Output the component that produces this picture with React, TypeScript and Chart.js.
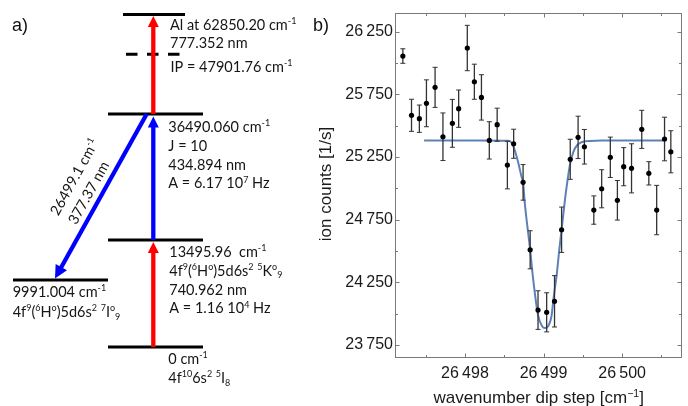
import React, { useEffect, useRef } from "react";
import { Chart, registerables } from "chart.js";
Chart.register(...registerables);

// ---------------- Panel b) data ----------------
const scanX = [
  26497.21, 26497.32, 26497.42, 26497.51, 26497.62, 26497.72, 26497.84, 26497.92,
  26498.03, 26498.12, 26498.21, 26498.31, 26498.41, 26498.54, 26498.62, 26498.74,
  26498.83, 26498.93, 26499.04, 26499.14, 26499.23, 26499.34, 26499.44, 26499.52,
  26499.64, 26499.74, 26499.85, 26499.94, 26500.02, 26500.12, 26500.25, 26500.34,
  26500.44, 26500.54, 26500.62,
];
const ionCounts = [
  26056, 25583, 25556, 25679, 25806, 25412, 25519, 25636,
  26120, 25851, 25726, 25383, 25508, 25186, 25356, 25048,
  24510, 24029, 24011, 24099, 24670, 25232, 25407, 25332,
  24827, 24997, 25248, 24905, 25173, 25160, 25471, 25120,
  24827, 25394, 25292,
];
const ionErr = [
  58, 128, 109, 187, 160, 190, 191, 149,
  181, 140, 181, 149, 132, 190, 116, 142,
  152, 154, 156, 205, 181, 160, 169, 138,
  113, 152, 161, 158, 152, 196, 152, 93,
  197, 174, 168,
];
const fitX = [
  26497.48, 26498.19, 26498.55, 26498.60, 26498.64, 26498.68, 26498.72, 26498.74,
  26498.76, 26498.79, 26498.83, 26498.86, 26498.89, 26498.93, 26498.98, 26499.02,
  26499.06, 26499.10, 26499.13, 26499.17, 26499.20, 26499.23, 26499.27, 26499.30,
  26499.34, 26499.38, 26499.43, 26499.49, 26499.59, 26499.75, 26500.52,
];
const fitY = [
  25383, 25383, 25380, 25359, 25292, 25200, 25093, 25048,
  24893, 24721, 24510, 24322, 24162, 23989, 23902, 23886,
  23902, 23976, 24135, 24322, 24508, 24670, 24893, 25040,
  25200, 25292, 25346, 25370, 25379, 25383, 25383,
];
const xTickValues = [26498, 26499, 26500];
const xMinorValues = [26497.5, 26498.5, 26499.5, 26500.5];
const yTickValues = [23750, 24250, 24750, 25250, 25750, 26250];
const yMinorValues = [24000, 24500, 25000, 25500, 26000];
const xRange = [26497.11, 26500.766];
const yRange = [23649, 26397];
const xTitle = "wavenumber dip step [cm^{\u22121}]";
const yTitle = "ion counts [1/s]";

// ---------------- Panel a) data ----------------
const levelEnergies = [0, 9991.004, 13495.96, 36490.06, 47901.76, 62850.2];
const levelLabelBlocks = [
  ["0 cm^{-1}", "4f^{10}6s^{2} ^{5}I_{8}"],
  ["9991.004 cm^{-1}", "4f^{9}(^{6}H^{o})5d6s^{2} ^{7}I^{o}_{9}"],
  ["13495.96  cm^{-1}", "4f^{9}(^{6}H^{o})5d6s^{2} ^{5}K^{o}_{9}", "740.962 nm", "A = 1.16 10^{4} Hz"],
  ["36490.060 cm^{-1}", "J = 10", "434.894 nm", "A = 6.17 10^{7} Hz"],
  ["IP = 47901.76 cm^{-1}"],
  ["Al at 62850.20 cm^{-1}", "777.352 nm"],
];
const transitionFrom = [0, 2, 3, 3];
const transitionTo = [2, 3, 5, 1];
const transitionColors = ["#ff0000", "#0000ff", "#ff0000", "#0000ff"];
const decayLabels = ["26499.1 cm^{-1}", "377.37 nm"];

// ---------------- layout (schematic positions, not data) ----------------
const W_A = 300;
const H = 406;
const W_B = 388;
const levelLayout = [
  { x0: 108, x1: 203, y: 347 },
  { x0: 13, x1: 108, y: 280 },
  { x0: 108, x1: 203, y: 240 },
  { x0: 108, x1: 203, y: 114 },
  { x0: 126, x1: 180, y: 54.3 },
  { x0: 123, x1: 185, y: 14.5 },
];
const arrowLayout = [
  { x0: 153.3, x1: 153.3, tipGap: 2 },
  { x0: 153.3, x1: 153.3, tipGap: 2.5 },
  { x0: 153.3, x1: 153.3, tipGap: 1.5 },
  { x0: 146.7, x1: 55, tipGap: 1.5 },
];
const blockLayout = [
  { x: 168.3, y: 359, gap: 19 },
  { x: 12.7, y: 292, gap: 20 },
  { x: 169.3, y: 252, gap: 18.7 },
  { x: 168.3, y: 127, gap: 18.7 },
  { x: 170.5, y: 67, gap: 18.7 },
  { x: 170, y: 25, gap: 18 },
];
const decayLabelLayout = [
  { along: 90, normal: 33 },
  { along: 97, normal: 13 },
];

const SANS = "'Liberation Sans', Arial, sans-serif";
const LABEL_FONT = "Lato, 'Liberation Sans', sans-serif";

// ---------------- rich text helper ----------------
type Seg = { t: string; m: 0 | 1 | 2 };
function parseRich(s: string): Seg[] {
  const out: Seg[] = [];
  let i = 0;
  let buf = "";
  while (i < s.length) {
    const c = s[i];
    if ((c === "^" || c === "_") && s[i + 1] === "{") {
      if (buf) {
        out.push({ t: buf, m: 0 });
        buf = "";
      }
      const end = s.indexOf("}", i + 2);
      out.push({ t: s.slice(i + 2, end), m: c === "^" ? 1 : 2 });
      i = end + 1;
    } else {
      buf += c;
      i++;
    }
  }
  if (buf) out.push({ t: buf, m: 0 });
  return out;
}
function drawRich(
  ctx: CanvasRenderingContext2D,
  s: string,
  x: number,
  yCapCenter: number,
  size: number,
  family: string,
  align: "left" | "center",
  color: string
) {
  const segs = parseRich(s);
  const small = size * 0.62;
  const widths = segs.map((sg) => {
    ctx.font = `${sg.m ? small : size}px ${family}`;
    return ctx.measureText(sg.t).width;
  });
  const total = widths.reduce((a, b) => a + b, 0);
  let cx = align === "center" ? x - total / 2 : x;
  const base = yCapCenter + size * 0.36;
  ctx.fillStyle = color;
  ctx.textAlign = "left";
  ctx.textBaseline = "alphabetic";
  segs.forEach((sg, k) => {
    ctx.font = `${sg.m ? small : size}px ${family}`;
    const dy = sg.m === 1 ? -size * 0.4 : sg.m === 2 ? size * 0.17 : 0;
    ctx.fillText(sg.t, cx, base + dy);
    cx += widths[k];
  });
}

function drawArrow(
  ctx: CanvasRenderingContext2D,
  x0: number,
  y0: number,
  x1: number,
  y1: number,
  color: string,
  shaft: number,
  headLen: number,
  headHalf: number
) {
  const dx = x1 - x0;
  const dy = y1 - y0;
  const L = Math.hypot(dx, dy);
  const ux = dx / L;
  const uy = dy / L;
  const bx = x1 - ux * headLen;
  const by = y1 - uy * headLen;
  ctx.save();
  ctx.strokeStyle = color;
  ctx.fillStyle = color;
  ctx.lineWidth = shaft;
  ctx.lineCap = "butt";
  ctx.beginPath();
  ctx.moveTo(x0, y0);
  ctx.lineTo(bx + ux * 1, by + uy * 1);
  ctx.stroke();
  ctx.beginPath();
  ctx.moveTo(x1, y1);
  ctx.lineTo(bx - uy * headHalf, by + ux * headHalf);
  ctx.lineTo(bx + uy * headHalf, by - ux * headHalf);
  ctx.closePath();
  ctx.fill();
  ctx.restore();
}

// ---------------- Panel a) chart ----------------
function LevelDiagram() {
  const ref = useRef<HTMLCanvasElement | null>(null);
  useEffect(() => {
    if (!ref.current) return;
    const diagramPlugin = {
      id: "diagram",
      afterDatasetsDraw(chart: any) {
        const { ctx } = chart;
        const sx = chart.scales.x;
        const sy = chart.scales.y;
        const px = (v: number) => sx.getPixelForValue(v);
        const py = (v: number) => sy.getPixelForValue(v);
        // transitions
        transitionFrom.forEach((f, i) => {
          const t = transitionTo[i];
          const a = arrowLayout[i];
          const yFrom = levelLayout[f].y;
          const yTo = levelLayout[t].y;
          const up = levelEnergies[t] > levelEnergies[f];
          const tipY = up ? yTo + a.tipGap : yTo - a.tipGap;
          const diag = a.x0 !== a.x1;
          drawArrow(
            ctx,
            px(a.x0),
            py(yFrom),
            px(a.x1),
            py(tipY),
            transitionColors[i],
            4.3,
            diag ? 13 : 11,
            diag ? 6.5 : 5.5
          );
        });
        // decay labels along the diagonal arrow
        const d = arrowLayout[3];
        const sX = px(d.x0);
        const sY = py(levelLayout[3].y);
        const tX = px(d.x1);
        const tY = py(levelLayout[1].y);
        const L = Math.hypot(tX - sX, tY - sY);
        const rx = (sX - tX) / L;
        const ry = (sY - tY) / L;
        const ang = Math.atan2(ry, rx);
        const nx = Math.sin(ang);
        const ny = -Math.cos(ang);
        decayLabels.forEach((s, i) => {
          const lay = decayLabelLayout[i];
          const cx = sX - rx * lay.along + nx * lay.normal;
          const cy = sY - ry * lay.along + ny * lay.normal;
          ctx.save();
          ctx.translate(cx, cy);
          ctx.rotate(ang);
          drawRich(ctx, s, 0, 0, 14.5, LABEL_FONT, "center", "#151515");
          ctx.restore();
        });
        // level labels
        levelLabelBlocks.forEach((lines, i) => {
          const b = blockLayout[i];
          lines.forEach((s, k) => {
            drawRich(ctx, s, px(b.x), py(b.y + k * b.gap), 14.5, LABEL_FONT, "left", "#151515");
          });
        });
        drawRich(ctx, "a)", px(12), py(24.5), 18, SANS, "left", "#111");
      },
    };
    const chart = new Chart(ref.current, {
      type: "scatter",
      data: {
        datasets: levelLayout.map((L, i) => ({
          label: "level " + levelEnergies[i],
          data: [
            { x: L.x0, y: L.y },
            { x: L.x1, y: L.y },
          ],
          showLine: true,
          borderColor: "#000",
          borderWidth: 3,
          borderCapStyle: "butt",
          borderDash: i === 4 ? [11.5, 9.5] : [],
          pointRadius: 0,
        })),
      },
      options: {
        animation: false,
        responsive: false,
        devicePixelRatio: 1,
        layout: { padding: 0 },
        plugins: { legend: { display: false }, tooltip: { enabled: false } },
        scales: {
          x: { type: "linear", min: 0, max: W_A, display: false },
          y: { type: "linear", min: 0, max: H, reverse: true, display: false },
        },
      },
      plugins: [diagramPlugin],
    } as any);
    return () => chart.destroy();
  }, []);
  return (
    <canvas
      ref={ref}
      width={W_A}
      height={H}
      style={{ position: "absolute", left: 0, top: 0, width: W_A, height: H }}
    />
  );
}

// ---------------- Panel b) chart ----------------
function fmtTick(v: number) {
  const s = String(Math.round(v));
  return s.slice(0, s.length - 3) + "\u2009" + s.slice(s.length - 3);
}

function ScanChart() {
  const ref = useRef<HTMLCanvasElement | null>(null);
  useEffect(() => {
    if (!ref.current) return;
    const framePlugin = {
      id: "frameTicks",
      beforeDatasetsDraw(chart: any) {
        const { ctx, chartArea: a } = chart;
        const sx = chart.scales.x;
        const sy = chart.scales.y;
        const l = Math.round(a.left) + 0.5;
        const r = Math.round(a.right) - 0.5;
        const t = Math.round(a.top) + 0.5;
        const b = Math.round(a.bottom) - 0.5;
        ctx.save();
        ctx.strokeStyle = "#7a7a7a";
        ctx.lineWidth = 1;
        ctx.strokeRect(l, t, r - l, b - t);
        ctx.beginPath();
        const xt = (vals: number[], len: number) =>
          vals.forEach((v) => {
            const p = Math.round(sx.getPixelForValue(v)) + 0.5;
            ctx.moveTo(p, b);
            ctx.lineTo(p, b - len);
            ctx.moveTo(p, t);
            ctx.lineTo(p, t + len);
          });
        const yt = (vals: number[], len: number) =>
          vals.forEach((v) => {
            const p = Math.round(sy.getPixelForValue(v)) + 0.5;
            ctx.moveTo(l, p);
            ctx.lineTo(l + len, p);
            ctx.moveTo(r, p);
            ctx.lineTo(r - len, p);
          });
        xt(xTickValues, 4);
        xt(xMinorValues, 2.5);
        yt(yTickValues, 4);
        yt(yMinorValues, 2.5);
        ctx.stroke();
        ctx.restore();
      },
      afterDatasetDraw(chart: any, args: any) {
        if (args.index !== 1) return;
        const { ctx } = chart;
        const sx = chart.scales.x;
        const sy = chart.scales.y;
        ctx.save();
        ctx.strokeStyle = "#333";
        scanX.forEach((xv, i) => {
          const p = sx.getPixelForValue(xv);
          const y0 = sy.getPixelForValue(ionCounts[i] - ionErr[i]);
          const y1 = sy.getPixelForValue(ionCounts[i] + ionErr[i]);
          ctx.lineWidth = 1.3;
          ctx.beginPath();
          ctx.moveTo(p, y0);
          ctx.lineTo(p, y1);
          ctx.stroke();
          ctx.lineWidth = 1;
          ctx.beginPath();
          ctx.moveTo(p - 2.5, y0);
          ctx.lineTo(p + 2.5, y0);
          ctx.moveTo(p - 2.5, y1);
          ctx.lineTo(p + 2.5, y1);
          ctx.stroke();
        });
        ctx.restore();
      },
      afterDraw(chart: any) {
        const { ctx, chartArea: a } = chart;
        drawRich(ctx, "b)", 13, 24.5, 18, SANS, "left", "#111");
        drawRich(ctx, xTitle, (a.left + a.right) / 2, 397.3, 17, SANS, "center", "#1a1a1a");
        ctx.save();
        ctx.translate(24.6, 184);
        ctx.rotate(-Math.PI / 2);
        drawRich(ctx, yTitle, 0, 0, 17, SANS, "center", "#1a1a1a");
        ctx.restore();
      },
    };
    const chart = new Chart(ref.current, {
      type: "scatter",
      data: {
        datasets: [
          {
            label: "ion counts",
            data: scanX.map((x, i) => ({ x, y: ionCounts[i] })),
            pointRadius: 2.6,
            pointBackgroundColor: "#000",
            pointBorderWidth: 0,
            showLine: false,
          },
          {
            label: "fit",
            data: fitX.map((x, i) => ({ x, y: fitY[i] })),
            showLine: true,
            pointRadius: 0,
            borderColor: "#5e81b5",
            borderWidth: 2,
            cubicInterpolationMode: "monotone",
            fill: false,
          },
        ],
      },
      options: {
        animation: false,
        responsive: false,
        devicePixelRatio: 1,
        layout: { padding: { top: 13.3, right: 5.7, left: 0, bottom: 0 } },
        plugins: { legend: { display: false }, tooltip: { enabled: false } },
        scales: {
          x: {
            type: "linear",
            min: xRange[0],
            max: xRange[1],
            grid: { display: false, drawTicks: false },
            border: { display: false },
            ticks: {
              padding: 6,
              color: "#1a1a1a",
              font: { family: SANS, size: 16 },
              autoSkip: false,
              maxRotation: 0,
              callback: (v: any) => fmtTick(Number(v)),
            },
            afterBuildTicks: (s: any) => {
              s.ticks = xTickValues.map((v) => ({ value: v }));
            },
            afterFit: (s: any) => {
              s.height = 48.3;
            },
          },
          y: {
            type: "linear",
            min: yRange[0],
            max: yRange[1],
            grid: { display: false, drawTicks: false },
            border: { display: false },
            ticks: {
              padding: 2,
              color: "#1a1a1a",
              font: { family: SANS, size: 16 },
              autoSkip: false,
              callback: (v: any) => fmtTick(Number(v)),
            },
            afterBuildTicks: (s: any) => {
              s.ticks = yTickValues.map((v) => ({ value: v }));
            },
            afterFit: (s: any) => {
              s.width = 95;
            },
          },
        },
      },
      plugins: [framePlugin],
    } as any);
    return () => chart.destroy();
  }, []);
  return (
    <canvas
      ref={ref}
      width={W_B}
      height={H}
      style={{ position: "absolute", left: W_A, top: 0, width: W_B, height: H }}
    />
  );
}

export default function App() {
  return (
    <div
      style={{
        position: "fixed",
        left: 0,
        top: 0,
        width: W_A + W_B,
        height: H,
        background: "#fff",
        overflow: "hidden",
      }}
    >
      <LevelDiagram />
      <ScanChart />
    </div>
  );
}
